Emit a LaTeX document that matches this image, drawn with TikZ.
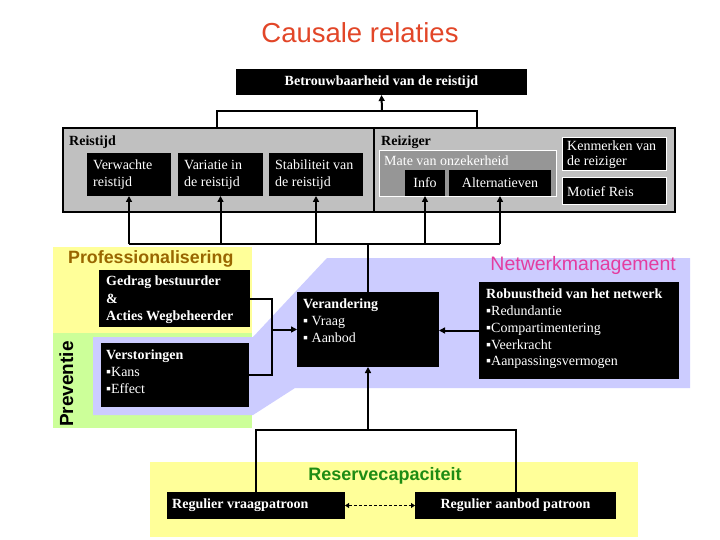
\documentclass[tikz,border=0pt]{standalone}
\usepackage{fontspec}
\setmainfont{Liberation Serif}
\setsansfont{Liberation Sans}
\usetikzlibrary{arrows.meta,calc}
\definecolor{titlered}{RGB}{226,70,40}
\definecolor{greybox}{RGB}{192,192,192}
\definecolor{matebox}{RGB}{150,150,150}
\definecolor{paleyellow}{RGB}{255,255,153}
\definecolor{palegreen}{RGB}{204,255,153}
\definecolor{lavender}{RGB}{204,204,255}
\definecolor{profgold}{RGB}{153,102,0}
\definecolor{netmagenta}{RGB}{228,60,160}
\definecolor{resgreen}{RGB}{30,140,20}
\begin{document}
\begin{tikzpicture}[x=1pt,y=-1pt,
  blk/.style={fill=black,draw=none,inner sep=0,outer sep=0,anchor=north west},
  wblk/.style={blk,draw=white,line width=1pt},
  sect/.style={fill=greybox,draw=black,line width=1.3pt,inner sep=0,outer sep=0,anchor=north west},
  wtxt/.style={text=white,font=\fontsize{14}{16.7}\selectfont,align=left,inner sep=0,anchor=north west},
  btxt/.style={text=black,font=\bfseries\fontsize{14}{16.7}\selectfont,inner sep=0,anchor=base west},
  ln/.style={line width=2pt},
  arr/.style={ln,-{Triangle[length=6pt,width=6pt]}},
  region/.style={draw=none,inner sep=0,outer sep=0,anchor=north west}
]
\useasboundingbox (0,0) rectangle (720,540);
\fill[white] (0,0) rectangle (720,540);

% title
\node[inner sep=0,anchor=base,text=titlered,font=\sffamily\fontsize{27.5}{30}\selectfont] (title) at (360,43) {Causale relaties};

% background regions
\node[region,fill=paleyellow,minimum width=199,minimum height=86] (profreg) at (53,247) {};
\node[region,fill=palegreen,minimum width=199,minimum height=95] (prevreg) at (53,333) {};
\fill[lavender] (93,337) -- (253,337) -- (327,258) -- (690,258) -- (690,388) -- (295,388) -- (253,415) -- (93,415) -- cycle;
\node[region,fill=paleyellow,minimum width=488,minimum height=75] (resreg) at (150,462) {};

% region labels
\node[inner sep=0,anchor=base west,text=profgold,font=\sffamily\bfseries\fontsize{17.8}{20}\selectfont] (proflbl) at (68,263) {Professionalisering};
\node[inner sep=0,anchor=base,rotate=90,text=black,font=\sffamily\bfseries\fontsize{19}{20}\selectfont] (prevlbl) at (73,384) {Preventie};
\node[inner sep=0,anchor=base east,text=netmagenta,font=\sffamily\fontsize{19.5}{22}\selectfont] (netlbl) at (676,270) {Netwerkmanagement};
\node[inner sep=0,anchor=base,text=resgreen,font=\sffamily\bfseries\fontsize{18}{20}\selectfont] (reslbl) at (385,480) {Reservecapaciteit};

% top box
\node[blk,minimum width=291,minimum height=26] (bt) at (236,69) {};
\node[inner sep=0,text=white,font=\bfseries\fontsize{14}{16}\selectfont] (btT) at (bt.center) {Betrouwbaarheid van de reistijd};

% grey sections
\node[sect,minimum width=311,minimum height=84] (secL) at (63,128) {};
\node[sect,minimum width=301,minimum height=84] (secR) at (374,128) {};
\node[btxt] (reistijdlbl) at (69,146) {Reistijd};
\node[btxt] (reizigerlbl) at (381,146) {Reiziger};

\node[blk,minimum width=84,minimum height=43] (vw) at (87,153) {};
\node[wtxt] (vwT) at (93,160) {Verwachte\\reistijd};
\node[blk,minimum width=85,minimum height=43] (va) at (178,153) {};
\node[wtxt] (vaT) at (184,160) {Variatie in\\de reistijd};
\node[blk,minimum width=94,minimum height=43] (st) at (269,153) {};
\node[wtxt] (stT) at (275,160) {Stabiliteit van\\de reistijd};

\node[blk,fill=matebox,draw=white,line width=1pt,minimum width=177,minimum height=46] (mate) at (379,151) {};
\node[inner sep=0,anchor=base west,text=white,font=\fontsize{14}{16}\selectfont] (mateT) at (384,166) {Mate van onzekerheid};
\node[blk,minimum width=40,minimum height=26] (info) at (405,170) {};
\node[inner sep=0,text=white,font=\fontsize{14}{16}\selectfont] (infoT) at (info.center) {Info};
\node[blk,minimum width=102,minimum height=26] (alt) at (449,170) {};
\node[inner sep=0,text=white,font=\fontsize{14}{16}\selectfont] (altT) at (alt.center) {Alternatieven};

\node[wblk,minimum width=104,minimum height=33] (ken) at (562,138) {};
\node[wtxt,font=\fontsize{14}{15}\selectfont] (kenT) at (567,141) {Kenmerken van\\de reiziger};
\node[wblk,minimum width=104,minimum height=27] (mot) at (562,178) {};
\node[inner sep=0,anchor=west,text=white,font=\fontsize{14}{16}\selectfont] (motT) at ($(mot.west)+(5,0)$) {Motief Reis};

% middle boxes
\node[blk,minimum width=151,minimum height=57] (ged) at (99,270) {};
\node[wtxt,font=\bfseries\fontsize{14}{17.5}\selectfont] (gedT) at (106,276) {Gedrag bestuurder\\\&\\Acties Wegbeheerder};
\node[blk,minimum width=148,minimum height=64] (vst) at (101,343) {};
\node[wtxt,font=\fontsize{14}{17}\selectfont] (vstT) at (106,350) {\textbf{Verstoringen}\\▪Kans\\▪Effect};
\node[blk,minimum width=142,minimum height=75] (ver) at (297,292) {};
\node[wtxt,font=\fontsize{14}{17}\selectfont] (verT) at (303,299) {\textbf{Verandering}\\▪ Vraag\\▪ Aanbod};
\node[blk,minimum width=200,minimum height=97] (rob) at (479,282) {};
\node[wtxt,font=\fontsize{14}{16.7}\selectfont] (robT) at (486,289) {\textbf{Robuustheid van het netwerk}\\▪Redundantie\\▪Compartimentering\\▪Veerkracht\\▪Aanpassingsvermogen};

% bottom boxes
\node[blk,minimum width=178,minimum height=27] (regV) at (167,492) {};
\node[inner sep=0,anchor=west,text=white,font=\bfseries\fontsize{14}{16}\selectfont] (regVT) at ($(regV.west)+(5,0)$) {Regulier vraagpatroon};
\node[blk,minimum width=201,minimum height=27] (regA) at (415,492) {};
\node[inner sep=0,text=white,font=\bfseries\fontsize{14}{16}\selectfont] (regAT) at (regA.center) {Regulier aanbod patroon};

% connectors: top
\coordinate (topj) at (382,111);
\coordinate (gl) at (217,128);
\coordinate (gr) at (477,128);
\draw[ln] (gl) |- (gr |- topj) -- (gr);
\draw[arr] (topj) -- (bt.south);

% hub to reistijd boxes
\coordinate (hub) at (131,244);
\draw[ln] (vw.south |- hub) -- (alt.south |- hub);
\draw[ln] (ver.north) -- (ver.north |- hub);
\draw[arr] (vw.south |- hub) -- (vw.south);
\draw[arr] (va.south |- hub) -- (va.south);
\draw[arr] (st.south |- hub) -- (st.south);
\draw[arr] (info.south |- hub) -- (info.south);
\draw[arr] (alt.south |- hub) -- (alt.south);

% left inputs
\coordinate (jx) at (272,329.5);
\draw[ln] (ged.east) -| (jx) |- (vst.east);
\draw[arr] (jx) -- (ver.west);
% right input
\draw[arr] (rob.west) -- (rob.west -| ver.east);

% bottom
\coordinate (bj) at (368,430);
\draw[arr] (ver.south |- bj) -- (ver.south);
\draw[ln] (regV.north) |- (regA.north |- bj) -- (regA.north);
\draw[line width=1.5pt,dash pattern=on 3pt off 2pt,{Triangle[length=4pt,width=5pt]}-{Triangle[length=4pt,width=5pt]}] (regV.east) -- (regA.west);
\end{tikzpicture}
\end{document}
